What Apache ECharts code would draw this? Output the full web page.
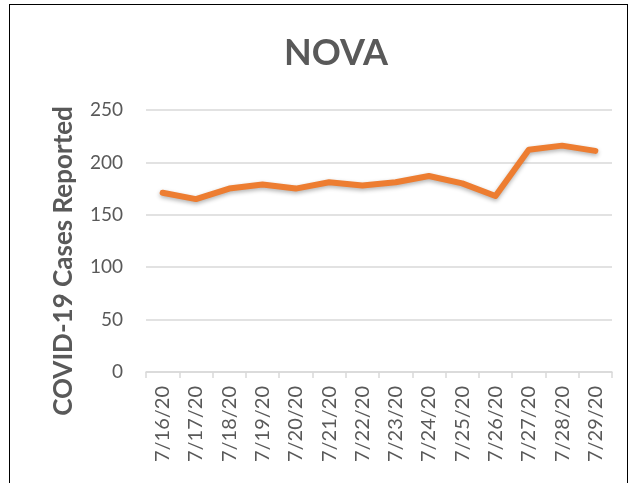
<!DOCTYPE html>
<html>
<head>
<meta charset="utf-8">
<script src="https://cdn.jsdelivr.net/npm/echarts@6/dist/echarts.min.js"></script>
<style>
  html, body { margin: 0; padding: 0; background: #fff; }
  #frame { position: absolute; left: 9px; top: 4px; width: 617px; height: 490px; border: 1.5px solid #000; }
  #chart { position: absolute; left: 0; top: 0; width: 634px; height: 483px; }
</style>
</head>
<body>
<div id="frame"></div>
<div id="chart"></div>
<script>
// NOVA daily cases
var dates = ['7/16/20', '7/17/20', '7/18/20', '7/19/20', '7/20/20', '7/21/20', '7/22/20',
             '7/23/20', '7/24/20', '7/25/20', '7/26/20', '7/27/20', '7/28/20', '7/29/20'];
var cases = [171, 165, 175, 179, 175, 181, 178, 181, 187, 180, 168, 212, 216, 211];

var myChart = echarts.init(document.getElementById('chart'));
var font = 'Lato, "Open Sans", sans-serif';

var option = {
    animation: false,
    title: {
        text: 'NOVA',
        left: 331,
        top: 30,
        textAlign: 'center',
        textStyle: { fontFamily: font, fontSize: 36, fontWeight: 'bold', color: '#595959' }
    },
    graphic: [{
        type: 'text',
        x: 64,
        y: 261,
        rotation: Math.PI / 2,
        style: {
            text: 'COVID-19 Cases Reported',
            font: 'bold 26px ' + font,
            fill: '#595959',
            align: 'center',
            verticalAlign: 'middle'
        }
    }],
    grid: { left: 146, right: 22, top: 110, bottom: 111 },
    xAxis: {
        type: 'category',
        data: dates,
        boundaryGap: true,
        axisLine: { lineStyle: { color: '#d9d9d9', width: 1.5 } },
        axisTick: { show: true, length: 6, lineStyle: { color: '#d9d9d9', width: 1.5 } },
        axisLabel: { rotate: 90, margin: 14, interval: 0, fontFamily: font, fontSize: 20, color: '#595959' }
    },
    yAxis: {
        type: 'value',
        min: 0,
        max: 250,
        interval: 50,
        axisLine: { show: false },
        axisTick: { show: false },
        splitLine: { lineStyle: { color: '#d9d9d9', width: 1.5 } },
        axisLabel: { margin: 23, fontFamily: font, fontSize: 19, color: '#595959' }
    },
    series: [{
        type: 'line',
        data: cases,
        symbol: 'none',
        lineStyle: {
            color: '#ED7D31',
            width: 6,
            cap: 'round',
            join: 'round',
            shadowColor: 'rgba(0,0,0,0.3)',
            shadowBlur: 4,
            shadowOffsetY: 2
        }
    }]
};
myChart.setOption(option);
</script>
</body>
</html>
